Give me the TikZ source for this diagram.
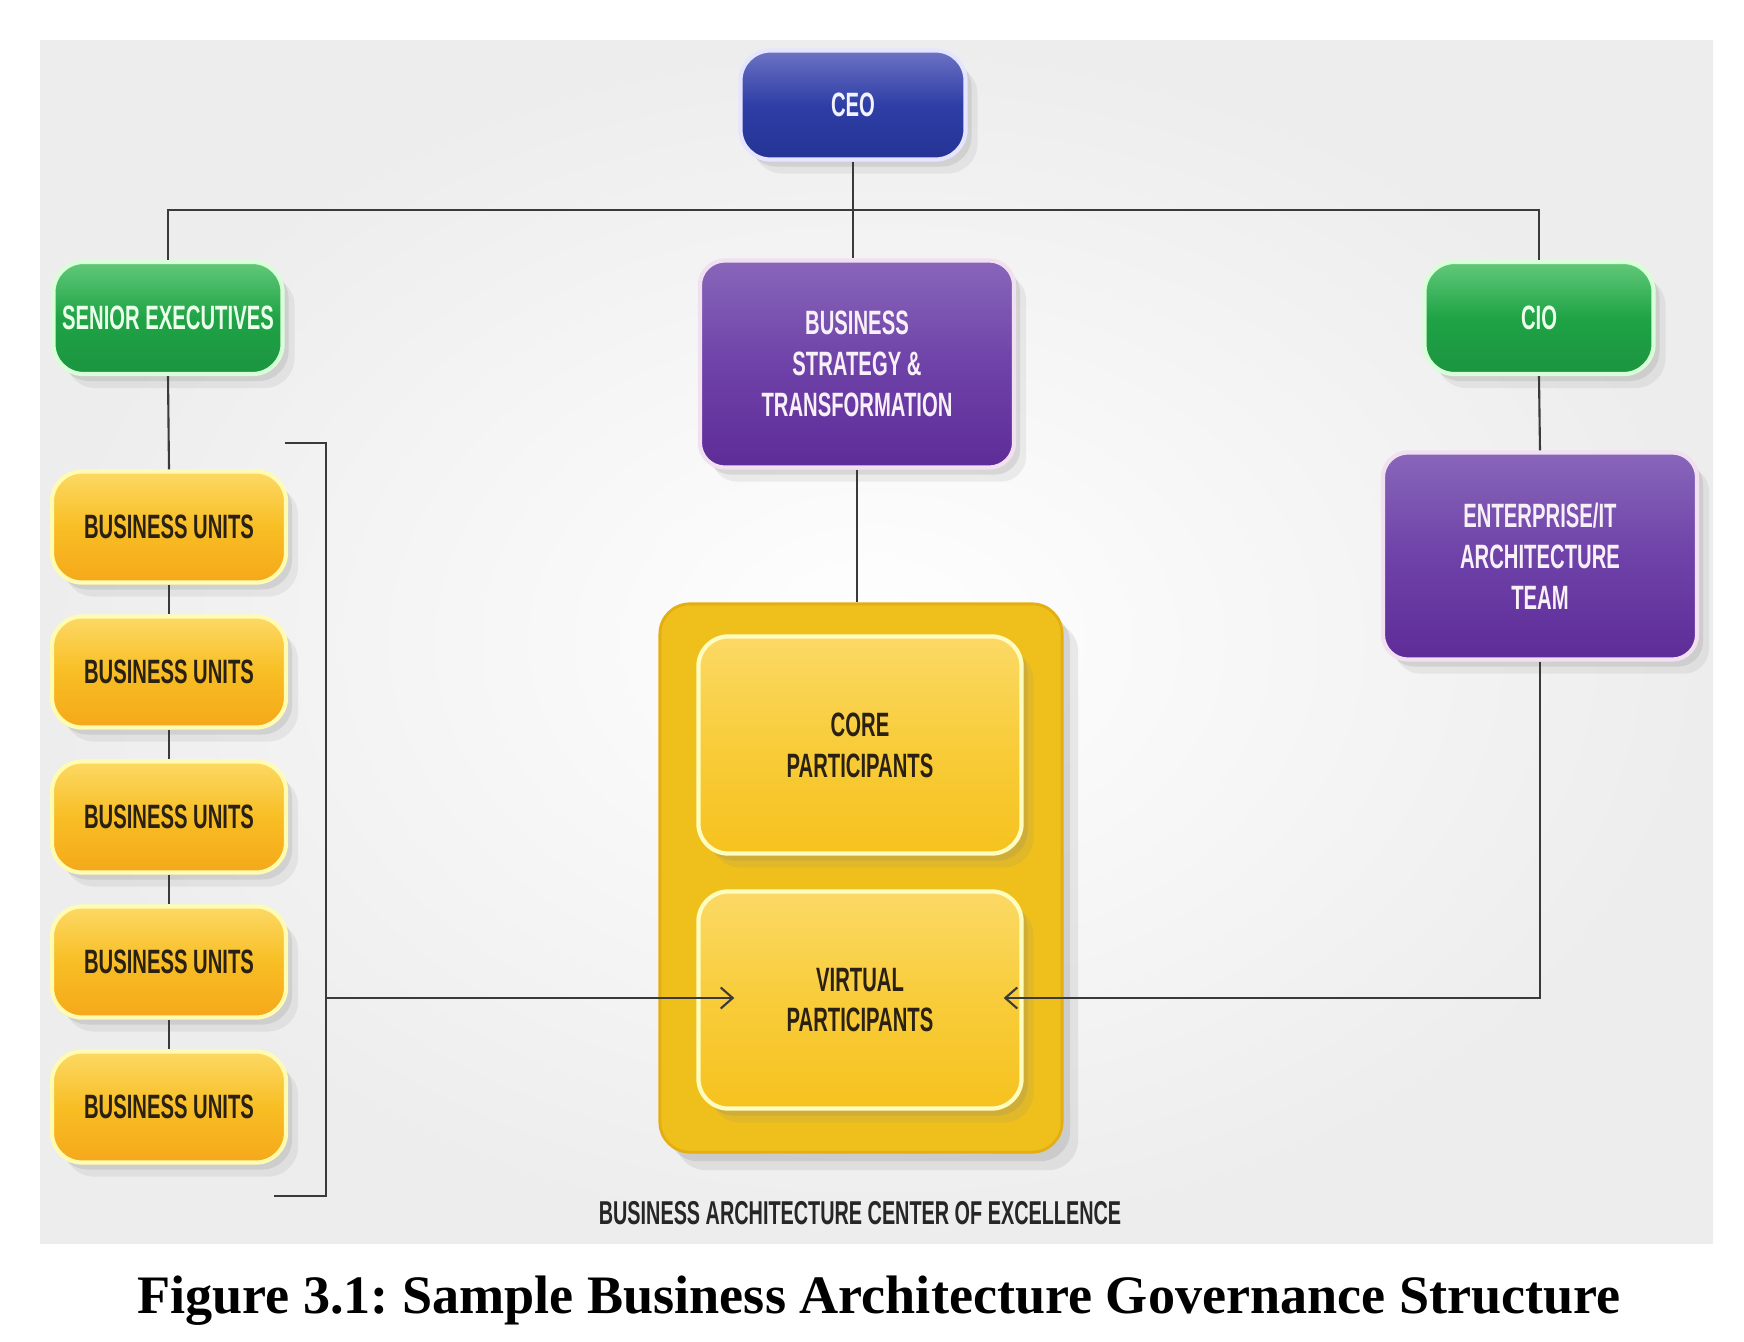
\documentclass[tikz,border=0pt]{standalone}
\usepackage{fontspec}
\setmainfont{Liberation Serif}
\newfontfamily\boxfont[FakeStretch=0.6]{Liberation Sans}
\usetikzlibrary{shadows,arrows.meta}
\frenchspacing

\definecolor{ceoTop}{HTML}{6D73C4}
\definecolor{ceoMid}{HTML}{2E3EA6}
\definecolor{ceoBot}{HTML}{243394}
\definecolor{grnTop}{HTML}{62C97A}
\definecolor{grnMid}{HTML}{1FA345}
\definecolor{grnBot}{HTML}{1B9440}
\definecolor{purTop}{HTML}{8866BA}
\definecolor{purMid}{HTML}{6E42A8}
\definecolor{purBot}{HTML}{5E2C98}
\definecolor{buTop}{HTML}{FCD965}
\definecolor{buMid}{HTML}{F8BE24}
\definecolor{buBot}{HTML}{F5A81A}
\definecolor{coeFill}{HTML}{EFC01C}
\definecolor{coeEdge}{HTML}{E2AE12}
\definecolor{cpTop}{HTML}{FBD965}
\definecolor{cpMid}{HTML}{F8CC3A}
\definecolor{cpBot}{HTML}{F6C21E}
\definecolor{inkDark}{HTML}{2A2014}
\definecolor{wire}{HTML}{3A3A3A}
\definecolor{panel}{HTML}{EDEDED}

\tikzset{
  orgbox/.style={rounded corners=0.3cm, line width=1.2pt, align=center, inner sep=0pt,
    font=\boxfont\bfseries\fontsize{9.6}{11.6}\selectfont,
    drop shadow={shadow xshift=0.12cm, shadow yshift=-0.14cm, opacity=0.12},
    drop shadow={shadow xshift=0.06cm, shadow yshift=-0.07cm, opacity=0.18}},
  ceobox/.style={orgbox, top color=ceoTop, bottom color=ceoBot, middle color=ceoMid,
    draw=blue!10, text=blue!5, minimum width=2.25cm, minimum height=1.09cm},
  execbox/.style={orgbox, top color=grnTop, bottom color=grnBot, middle color=grnMid,
    draw=green!15, text=green!8, minimum width=2.29cm, minimum height=1.12cm},
  teambox/.style={orgbox, top color=purTop, bottom color=purBot, middle color=purMid,
    draw=violet!12, text=violet!6, minimum width=3.14cm, minimum height=2.07cm, rounded corners=0.25cm},
  unitbox/.style={orgbox, top color=buTop, bottom color=buBot, middle color=buMid,
    draw=yellow!30, text=inkDark, minimum width=2.34cm, minimum height=1.11cm},
  partbox/.style={orgbox, top color=cpTop, bottom color=cpBot, middle color=cpMid,
    draw=yellow!25, text=inkDark, minimum width=3.23cm, minimum height=2.17cm},
  wireline/.style={draw=wire, line width=0.6pt},
}

\begin{document}
\begin{tikzpicture}[x=0.01cm, y=-0.01cm]
    \useasboundingbox (0,0) rectangle (1744,1342);
    % background panel
    \shade[inner color=white, outer color=panel] (40,40) rectangle (1713,1243);

    % top level
    \node[ceobox] (ceo) at (853,105) {CEO};
    \node[execbox] (se) at (168,318) {SENIOR EXECUTIVES};
    \node[execbox] (cio) at (1539,318) {CIO};
    \node[teambox] (bst) at (857,364) {BUSINESS\\STRATEGY \&\\TRANSFORMATION};
    \node[teambox] (ent) at (1540,556) {ENTERPRISE/IT\\ARCHITECTURE\\TEAM};

    % business units
    \foreach \i/\y in {1/527, 2/672, 3/817, 4/962, 5/1107} {
        \node[unitbox] (bu\i) at (169,\y) {BUSINESS UNITS};
    }

    % center of excellence
    \node[fill=coeFill, draw=coeEdge, line width=0.8pt, rounded corners=0.3cm,
          minimum width=4.02cm, minimum height=5.48cm,
          drop shadow={shadow xshift=0.16cm, shadow yshift=-0.18cm, opacity=0.15},
          drop shadow={shadow xshift=0.08cm, shadow yshift=-0.09cm, opacity=0.2}] (coe) at (861,878) {};
    \node[partbox] (core) at (860,745) {CORE\\PARTICIPANTS};
    \node[partbox] (vp) at (860,1000) {VIRTUAL\\PARTICIPANTS};
    \node[font=\boxfont\bfseries\fontsize{9.4}{11.6}\selectfont, text=black!85] (coelabel) at (860,1213)
        {BUSINESS ARCHITECTURE CENTER OF EXCELLENCE};

    % caption
    \node[font=\bfseries\fontsize{15.4}{18}\selectfont] (caption) at (879,1301)
        {Figure 3.1: Sample Business Architecture Governance Structure};

    % connectors
    \coordinate (bus) at (853,210);
    \draw[wireline] (ceo.south) -- (bus) -- (bus |- bst.north);
    \draw[wireline] (se.north) -- (se.north |- bus) -| (cio.north);
    \draw[wireline] (cio.south) -- (ent.north);
    \draw[wireline] (bst.south) -- (bst.south |- coe.north);
    \draw[wireline] (se.south) -- (bu1.north);
    \foreach \i/\j in {1/2, 2/3, 3/4, 4/5} {
        \draw[wireline] (bu\i.south) -- (bu\j.north);
    }

    % bracket round the units
    \coordinate (brtop) at (326,443);
    \coordinate (brbot) at (326,1196);
    \coordinate (brmid) at (326,998);
    \draw[wireline] (285,443) -- (brtop) -- (brbot) -- (274,1196);
    \coordinate (vpleft) at ([xshift=0.38cm]vp.west |- brmid);
    \coordinate (vpright) at ([xshift=-0.2cm]vp.east |- brmid);
    \draw[wireline, -{Straight Barb[length=1.2mm, width=2.1mm]}] (brmid) -- (vpleft);
    \draw[wireline, -{Straight Barb[length=1.2mm, width=2.1mm]}] (ent.south) |- (vpright);
\end{tikzpicture}
\end{document}
